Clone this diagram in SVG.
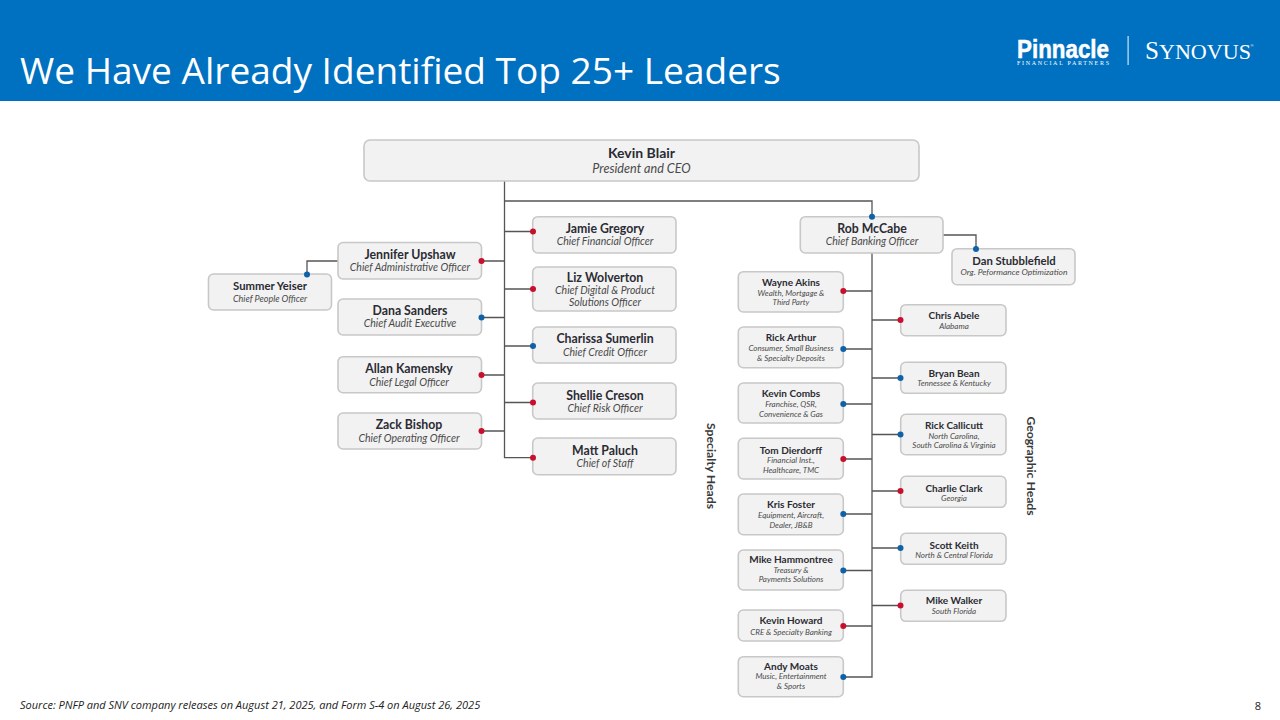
<svg xmlns="http://www.w3.org/2000/svg" width="1280" height="720" viewBox="0 0 1280 720">
<style>
.box{fill:#f2f2f2;stroke:#c8c8c8;stroke-width:1.6}
.ln{fill:none;stroke:#555;stroke-width:1.3}
.r{fill:#c8102e}.b{fill:#0f62a8}
circle{r:3px}
text{font-family:Lato,"Open Sans","Liberation Sans",sans-serif;text-anchor:middle;fill:#2b2b33}
.n{font-weight:700;font-size:12.3px}
.s{font-style:italic;font-size:10.5px;fill:#4a4a4a}
.n2{font-weight:700;font-size:10px}
.s2{font-style:italic;font-size:8px;fill:#4a4a4a}
.h{font-weight:700;font-size:12.2px;fill:#3a3a3a}
</style>
<rect width="1280" height="720" fill="#fff"/>
<rect width="1280" height="101" fill="#0070c0"/>
<text x="20" y="84" style="font-family:'Open Sans',sans-serif;font-size:37.05px;fill:#fff;text-anchor:start">We Have Already Identified Top 25+ Leaders</text>
<g id="logo">
<text x="1063" y="58" textLength="92" lengthAdjust="spacingAndGlyphs" style="font-family:'Liberation Sans',sans-serif;font-weight:700;font-size:25px;fill:#fff;stroke:#fff;stroke-width:.5">Pinnacle</text>
<text x="1063" y="65" textLength="92" style="font-family:'Liberation Serif',serif;font-size:6px;fill:#fff">FINANCIAL PARTNERS</text>
<rect x="1127.5" y="36" width="1.2" height="29" fill="#cfe3f3"/>
<text x="1198" y="59" textLength="106" lengthAdjust="spacingAndGlyphs" style="font-family:'Liberation Serif',serif;font-size:25px;fill:#fff">S<tspan font-size="22">YNOVUS</tspan></text>
<text x="1252" y="47" style="font-family:'Liberation Sans',sans-serif;font-size:4px;fill:#fff">®</text>
</g>
<g id="connectors">
<path class="ln" d="M504.5 181V457.7H533M504.5 201H872V217M504.5 231.5H533M481.5 261H504.5M504.5 289H533M481.5 317.5H504.5M504.5 346H533M481.5 375H504.5M504.5 402.5H533M481.5 431H504.5"/>
<path class="ln" d="M338 261H307V274.5M943 235H976V249"/>
<path class="ln" d="M872 253V677H843.3M843.3 291H872M843.3 349H872M843.3 404H872M843.3 459H872M843.3 514H872M843.3 570.5H872M843.3 626H872M872 320H900.5M872 378H900.5M872 434.5H900.5M872 491H900.5M872 548H900.5M872 605.5H900.5"/>
</g>
<g id="kevin-blair"><rect class="box" x="364" y="140" width="555" height="41" rx="6"/><text class="n" style="font-size:14px" x="641.5" y="158">Kevin Blair</text><text class="s" style="font-size:12.6px" x="641.5" y="173">President and CEO</text></g>
<g id="summer-yeiser"><rect class="box" x="208.5" y="274" width="123" height="36" rx="5"/><text class="n2" style="font-size:11.3px" x="270" y="290">Summer Yeiser</text><text class="s" style="font-size:9px" x="270" y="301.5">Chief People Officer</text><circle class="b" cx="307" cy="274.5"/></g>
<g id="jennifer-upshaw"><rect class="box" x="338" y="242.5" width="143.500" height="36.500" rx="5"/><text class="n" x="410" y="259">Jennifer Upshaw</text><text class="s" x="410" y="271">Chief Administrative Officer</text><circle class="r" cx="481.500" cy="261"/></g>
<g id="dana-sanders"><rect class="box" x="338" y="299" width="143.500" height="36" rx="5"/><text class="n" x="410" y="315">Dana Sanders</text><text class="s" x="410" y="327">Chief Audit Executive</text><circle class="b" cx="481.500" cy="317.500"/></g>
<g id="allan-kamensky"><rect class="box" x="338" y="356.700" width="143.500" height="36" rx="5"/><text class="n" x="409" y="373">Allan Kamensky</text><text class="s" x="409" y="385.500">Chief Legal Officer</text><circle class="r" cx="481.500" cy="375"/></g>
<g id="zack-bishop"><rect class="box" x="338" y="413" width="143.500" height="36" rx="5"/><text class="n" x="409" y="429">Zack Bishop</text><text class="s" x="409" y="441.500">Chief Operating Officer</text><circle class="r" cx="481.500" cy="431"/></g>
<g id="jamie-gregory"><rect class="box" x="532.700" y="216.700" width="143.300" height="36.300" rx="5"/><text class="n" x="605" y="233">Jamie Gregory</text><text class="s" x="605" y="245">Chief Financial Officer</text><circle class="r" cx="533" cy="231.500"/></g>
<g id="liz-wolverton"><rect class="box" x="532.700" y="267" width="143.300" height="44" rx="5"/><text class="n" x="605" y="282">Liz Wolverton</text><text class="s" x="605" y="294">Chief Digital &amp; Product</text><text class="s" x="605" y="306">Solutions Officer</text><circle class="r" cx="533" cy="289"/></g>
<g id="charissa-sumerlin"><rect class="box" x="532.700" y="327" width="143.300" height="36" rx="5"/><text class="n" x="605" y="343">Charissa Sumerlin</text><text class="s" x="605" y="356">Chief Credit Officer</text><circle class="b" cx="533" cy="346"/></g>
<g id="shellie-creson"><rect class="box" x="532.700" y="383" width="143.300" height="36" rx="5"/><text class="n" x="605" y="400">Shellie Creson</text><text class="s" x="605" y="412">Chief Risk Officer</text><circle class="r" cx="533" cy="402.500"/></g>
<g id="matt-paluch"><rect class="box" x="532.700" y="438" width="143.300" height="36.700" rx="5"/><text class="n" x="605" y="455">Matt Paluch</text><text class="s" x="605" y="467">Chief of Staff</text><circle class="r" cx="533" cy="457.700"/></g>
<g id="rob-mccabe"><rect class="box" x="800.300" y="216.700" width="142.700" height="36.300" rx="5"/><text class="n" x="872" y="233">Rob McCabe</text><text class="s" x="872" y="245">Chief Banking Officer</text><circle class="b" cx="872" cy="216.700"/></g>
<g id="dan-stubblefield"><rect class="box" x="952" y="248.700" width="123" height="36" rx="5"/><text class="n2" style="font-size:11.3px" x="1014" y="265">Dan Stubblefield</text><text class="s" style="font-size:8.500px" x="1014" y="275">Org. Peformance Optimization</text><circle class="b" cx="976" cy="249"/></g>
<g id="wayne-akins"><rect class="box" x="738.300" y="271.700" width="105" height="40.300" rx="5"/><text class="n2" x="791" y="286">Wayne Akins</text><text class="s2" x="791" y="295.500">Wealth, Mortgage &amp;</text><text class="s2" x="791" y="305">Third Party</text><circle class="r" cx="843.300" cy="291"/></g>
<g id="rick-arthur"><rect class="box" x="738.300" y="327" width="105" height="40.700" rx="5"/><text class="n2" x="791" y="341">Rick Arthur</text><text class="s2" x="791" y="351">Consumer, Small Business</text><text class="s2" x="791" y="360.500">&amp; Specialty Deposits</text><circle class="b" cx="843.300" cy="349"/></g>
<g id="kevin-combs"><rect class="box" x="738.300" y="383" width="105" height="40" rx="5"/><text class="n2" x="791" y="397">Kevin Combs</text><text class="s2" x="791" y="407">Franchise, QSR,</text><text class="s2" x="791" y="416.500">Convenience &amp; Gas</text><circle class="b" cx="843.300" cy="404"/></g>
<g id="tom-dierdorff"><rect class="box" x="738.300" y="438.300" width="105" height="40.700" rx="5"/><text class="n2" x="791" y="454">Tom Dierdorff</text><text class="s2" x="791" y="463">Financial Inst.,</text><text class="s2" x="791" y="472.500">Healthcare, TMC</text><circle class="r" cx="843.300" cy="459"/></g>
<g id="kris-foster"><rect class="box" x="738.300" y="494" width="105" height="40.700" rx="5"/><text class="n2" x="791" y="508">Kris Foster</text><text class="s2" x="791" y="518">Equipment, Aircraft,</text><text class="s2" x="791" y="527.500">Dealer, JB&amp;B</text><circle class="b" cx="843.300" cy="514"/></g>
<g id="mike-hammontree"><rect class="box" x="738.300" y="550" width="105" height="40" rx="5"/><text class="n2" x="791" y="563">Mike Hammontree</text><text class="s2" x="791" y="572.500">Treasury &amp;</text><text class="s2" x="791" y="582">Payments Solutions</text><circle class="b" cx="843.300" cy="570.500"/></g>
<g id="kevin-howard"><rect class="box" x="738.300" y="610" width="105" height="31" rx="5"/><text class="n2" x="791" y="624">Kevin Howard</text><text class="s2" x="791" y="634.500">CRE &amp; Specialty Banking</text><circle class="r" cx="843.300" cy="626"/></g>
<g id="andy-moats"><rect class="box" x="738.300" y="656.700" width="105" height="40" rx="5"/><text class="n2" x="791" y="670">Andy Moats</text><text class="s2" x="791" y="679">Music, Entertainment</text><text class="s2" x="791" y="689">&amp; Sports</text><circle class="b" cx="843.300" cy="677"/></g>
<g id="chris-abele"><rect class="box" x="900.700" y="304.700" width="105.300" height="31" rx="5"/><text class="n2" x="954" y="319">Chris Abele</text><text class="s2" x="954" y="328.500">Alabama</text><circle class="r" cx="900.500" cy="320"/></g>
<g id="bryan-bean"><rect class="box" x="900.700" y="362.300" width="105.300" height="31" rx="5"/><text class="n2" x="954" y="377">Bryan Bean</text><text class="s2" x="954" y="386">Tennessee &amp; Kentucky</text><circle class="b" cx="900.500" cy="378"/></g>
<g id="rick-callicutt"><rect class="box" x="900.700" y="414.300" width="105.300" height="40.400" rx="5"/><text class="n2" x="954" y="429">Rick Callicutt</text><text class="s2" x="954" y="438.500">North Carolina,</text><text class="s2" x="954" y="447.500">South Carolina &amp; Virginia</text><circle class="b" cx="900.500" cy="434.500"/></g>
<g id="charlie-clark"><rect class="box" x="900.700" y="476.300" width="105.300" height="31" rx="5"/><text class="n2" x="954" y="491.500">Charlie Clark</text><text class="s2" x="954" y="500.500">Georgia</text><circle class="r" cx="900.500" cy="491"/></g>
<g id="scott-keith"><rect class="box" x="900.700" y="533.300" width="105.300" height="31" rx="5"/><text class="n2" x="954" y="548.500">Scott Keith</text><text class="s2" x="954" y="557.500">North &amp; Central Florida</text><circle class="b" cx="900.500" cy="548"/></g>
<g id="mike-walker"><rect class="box" x="900.700" y="590.300" width="105.300" height="31" rx="5"/><text class="n2" x="954" y="604">Mike Walker</text><text class="s2" x="954" y="613.500">South Florida</text><circle class="r" cx="900.500" cy="605.500"/></g>
<text class="h" transform="translate(707 466) rotate(90)">Specialty Heads</text>
<text class="h" transform="translate(1027 466) rotate(90)">Geographic Heads</text>
<text x="20" y="709" style="font-family:'Open Sans',sans-serif;font-style:italic;font-size:11px;text-anchor:start;fill:#222">Source: PNFP and SNV company releases on August 21, 2025, and Form S-4 on August 26, 2025</text>
<text x="1258" y="710" style="font-family:'Open Sans',sans-serif;font-size:11px;fill:#222">8</text>
</svg>
